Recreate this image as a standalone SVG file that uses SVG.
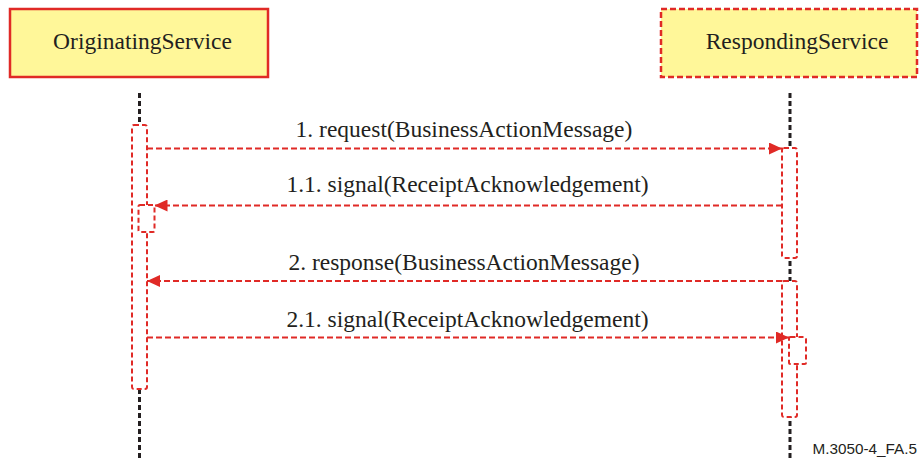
<svg xmlns="http://www.w3.org/2000/svg" width="920" height="459" viewBox="0 0 920 459">
  <style>
    .title { font-family: 'Liberation Serif', 'Times New Roman', serif; font-size: 23.5px; fill: #231f20; text-anchor: middle; }
    .label { font-family: 'Liberation Serif', 'Times New Roman', serif; font-size: 23.5px; fill: #231f20; text-anchor: middle; }
    .note { font-family: 'Liberation Sans', Arial, sans-serif; font-size: 15.3px; fill: #231f20; text-anchor: end; }
    .lifeline { stroke: #231f20; stroke-width: 3; stroke-dasharray: 5 3; fill: none; }
    .act { fill: #ffffff; stroke: #e02a26; stroke-width: 2; stroke-dasharray: 5 3; }
    .msg { stroke: #e02a26; stroke-width: 2; stroke-dasharray: 6 3; fill: none; }
  </style>
  <defs>
    <marker id="arrow" viewBox="0 0 13 12" refX="13" refY="6" markerWidth="13" markerHeight="12" markerUnits="userSpaceOnUse" orient="auto">
      <path d="M0,0 L13,6 L0,12 Z" fill="#e02a26"/>
    </marker>
  </defs>

  <!-- participants -->
  <g id="originating">
    <rect x="10" y="9" width="258" height="68" fill="#fff799" stroke="#e02a26" stroke-width="2.5"/>
    <text class="title" x="142.5" y="48.5">OriginatingService</text>
  </g>
  <g id="responding">
    <rect x="661" y="9" width="256" height="68" fill="#fff799" stroke="#e02a26" stroke-width="2.5" stroke-dasharray="6 3"/>
    <text class="title" x="797" y="48.5">RespondingService</text>
  </g>

  <!-- lifelines -->
  <g id="lifelines">
    <line class="lifeline" x1="139.5" y1="93" x2="139.5" y2="459"/>
    <line class="lifeline" x1="790" y1="93" x2="790" y2="459"/>
  </g>

  <!-- activation bars, nested calls drawn on top -->
  <g id="originating-activation">
    <rect class="act" x="132" y="125" width="15" height="264" rx="2"/>
    <rect class="act" x="138.5" y="205" width="16" height="27" rx="1.5"/>
  </g>
  <g id="responding-activation">
    <rect class="act" x="782" y="148" width="15" height="110" rx="2"/>
    <rect class="act" x="782" y="281" width="15" height="136" rx="2"/>
    <rect class="act" x="789" y="337" width="17" height="27" rx="1.5"/>
  </g>

  <!-- messages -->
  <g id="connectors">
    <line class="msg" x1="147" y1="148.5" x2="782" y2="148.5" marker-end="url(#arrow)"/>
    <line class="msg" x1="782" y1="205.5" x2="154.5" y2="205.5" marker-end="url(#arrow)"/>
    <line class="msg" x1="782" y1="281" x2="147" y2="281" marker-end="url(#arrow)"/>
    <line class="msg" x1="147" y1="337.5" x2="789" y2="337.5" marker-end="url(#arrow)"/>
  </g>

  <g id="labels">
    <text class="label" x="464" y="136.5">1. request(BusinessActionMessage)</text>
    <text class="label" x="467.5" y="192">1.1. signal(ReceiptAcknowledgement)</text>
    <text class="label" x="464" y="270">2. response(BusinessActionMessage)</text>
    <text class="label" x="467.5" y="326.5">2.1. signal(ReceiptAcknowledgement)</text>
  </g>

  <text class="note" x="917" y="454">M.3050-4_FA.5</text>
</svg>
